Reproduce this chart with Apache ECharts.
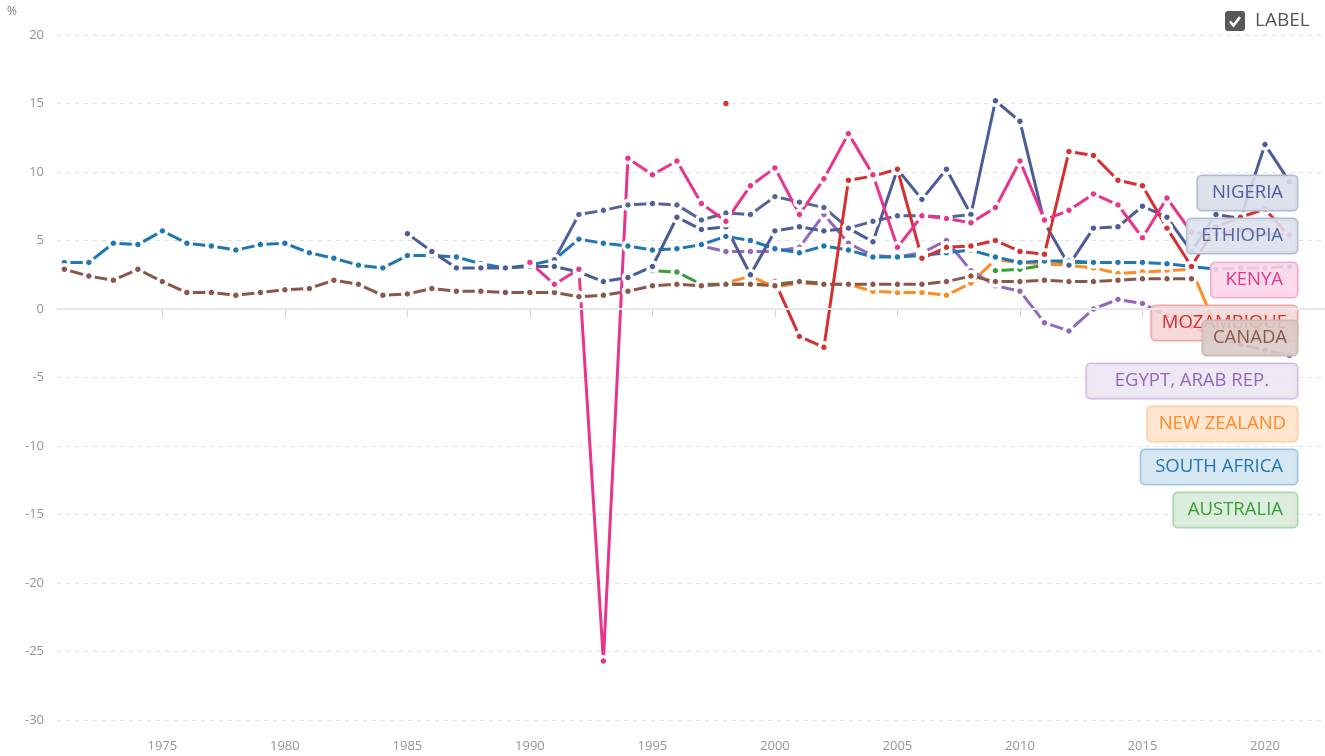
<!DOCTYPE html>
<html>
<head>
<meta charset="utf-8">
<script src="https://cdn.jsdelivr.net/npm/echarts@6.0.0/dist/echarts.min.js"></script>
<style>
    html, body { margin: 0; padding: 0; background: #fff; }
    #chart { width: 1325px; height: 756px; }
</style>
</head>
<body>
<div id="chart"></div>
<script>
    // tick labels on the year axis
    var yearTicks = [1975, 1980, 1985, 1990, 1995, 2000, 2005, 2010, 2015, 2020];

    // values per year, starting at the given year (null = no data)
    var southAfricaStart = 1971;
    var southAfrica = [3.4, 3.4, 4.8, 4.7, 5.7, 4.8, 4.6, 4.3, 4.7, 4.8, 4.1, 3.7, 3.2, 3.0, 3.9, 3.9, 3.8, 3.3, 3.0, 3.2,
        3.6, 5.1, 4.8, 4.6, 4.3, 4.4, 4.7, 5.3, 5.0, 4.4, 4.1, 4.6, 4.3, 3.8, 3.8, 3.9, 4.1, 4.3, 3.8, 3.4,
        3.5, 3.5, 3.4, 3.4, 3.4, 3.3, 3.1, 2.9, 3.0, 3.0, 3.1];

    var canadaStart = 1971;
    var canada = [2.9, 2.4, 2.1, 2.9, 2.0, 1.2, 1.2, 1.0, 1.2, 1.4, 1.5, 2.1, 1.8, 1.0, 1.1, 1.5, 1.3, 1.3, 1.2, 1.2,
        1.2, 0.9, 1.0, 1.3, 1.7, 1.8, 1.7, 1.8, 1.8, 1.7, 2.0, 1.8, 1.8, 1.8, 1.8, 1.8, 2.0, 2.4, 2.0, 2.0,
        2.1, 2.0, 2.0, 2.1, 2.2, 2.2, 2.2];

    var nigeriaStart = 1985;
    var nigeria = [5.5, 4.2, 3.0, 3.0, 3.0, 3.1, 3.1, 2.7, 2.0, 2.3, 3.1, 6.7, 5.8, 6.0, 2.5, 5.7, 6.0, 5.7, 5.9, 4.9,
        10.2, 8.0, 10.2, 6.9, 15.2, 13.7, 6.3, 3.2, 5.9, 6.0, 7.5, 6.7, 4.2, 6.9, 6.6, 12.0, 9.3];

    var ethiopiaStart = 1991;
    var ethiopia = [3.6, 6.9, 7.2, 7.6, 7.7, 7.6, 6.5, 7.0, 6.9, 8.2, 7.8, 7.4, 5.9, 6.4, 6.8, 6.8, 6.7, 6.9];

    var kenyaStart = 1990;
    var kenya = [3.4, 1.8, 2.9, -25.7, 11.0, 9.8, 10.8, 7.7, 6.4, 9.0, 10.3, 6.9, 9.5, 12.8, 9.8, 4.5, 6.8, 6.6, 6.3, 7.4,
        10.8, 6.5, 7.2, 8.4, 7.6, 5.2, 8.1, 5.6, 5.5, 5.8, 5.5, 5.4];

    var mozambiqueStart = 1998;
    var mozambique = [15.0, null, 2.0, -2.0, -2.8, 9.4, 9.7, 10.2, 3.7, 4.5, 4.6, 5.0, 4.2, 4.0, 11.5, 11.2, 9.4, 9.0, 5.9, 3.1,
        6.0, 6.7, 7.3, 5.3];

    var egyptStart = 1997;
    var egypt = [4.6, 4.2, 4.2, 4.2, 4.5, 6.9, 4.8, 3.9, 3.8, 4.1, 5.0, 2.8, 1.7, 1.3, -1.0, -1.6, 0.0, 0.7, 0.4, -0.5,
        -1.3, -2.0, -2.6, -3.0, -3.4];

    var newZealandStart = 1998;
    var newZealand = [1.9, 2.4, 1.6, 1.9, 1.8, 1.8, 1.3, 1.2, 1.2, 1.0, 1.9, 3.6, 3.4, 3.3, 3.2, 3.0, 2.6, 2.7, 2.8, 2.9,
        -1.3];

    var australiaStart = 1995;
    var australia = [2.8, 2.7, 1.8, 1.8, 1.8, 1.8, 2.0, 1.9, null, null, null, null, null, null, 2.8, 2.9, 3.2, 3.4, 3.4];

    // name, values, colour, label row (pixel centre), label side padding, box tint
    var countries = [
        {name: 'Australia',        start: australiaStart,   values: australia,   color: '#3a9d3a', row: 510, pad: 14, tint: 0.2},
        {name: 'New Zealand',      start: newZealandStart,  values: newZealand,  color: '#ff8a24', row: 424, pad: 11, tint: 0.24},
        {name: 'Egypt, Arab Rep.', start: egyptStart,       values: egypt,       color: '#9467bd', row: 381, pad: 28, tint: 0.18},
        {name: 'South Africa',     start: southAfricaStart, values: southAfrica, color: '#1f77b4', row: 467, pad: 14, tint: 0.2},
        {name: 'Ethiopia',         start: ethiopiaStart,    values: ethiopia,    color: '#52639e', row: 236, pad: 14, tint: 0.2},
        {name: 'Nigeria',          start: nigeriaStart,     values: nigeria,     color: '#4b5c98', row: 193, pad: 14, tint: 0.2},
        {name: 'Mozambique',       start: mozambiqueStart,  values: mozambique,  color: '#d62f2f', row: 323, pad: 10, tint: 0.2},
        {name: 'Canada',           start: canadaStart,      values: canada,      color: '#8c564b', row: 338, pad: 10, tint: 0.32},
        {name: 'Kenya',            start: kenyaStart,       values: kenya,       color: '#e8348c', row: 280, pad: 14, tint: 0.2}
    ];

    function tint(hex, t, a) {
        var r = parseInt(hex.slice(1, 3), 16), g = parseInt(hex.slice(3, 5), 16), b = parseInt(hex.slice(5, 7), 16);
        r = Math.round(255 - (255 - r) * t);
        g = Math.round(255 - (255 - g) * t);
        b = Math.round(255 - (255 - b) * t);
        return 'rgba(' + r + ',' + g + ',' + b + ',' + a + ')';
    }

    function buildData(start, values) {
        var last = -1;
        values.forEach(function (v, i) { if (v !== null) { last = i; } });
        return values.map(function (v, i) {
            var item = {value: [start + i, v === null ? '-' : v]};
            if (i === last) {
                item.label = {show: true};
            }
            return item;
        });
    }

    var labelRight = 1297;

    var series = countries.map(function (c, idx) {
        var s = {
            name: c.name,
            type: 'line',
            data: buildData(c.start, c.values),
            connectNulls: false,
            showSymbol: true,
            showAllSymbol: true,
            symbol: 'circle',
            symbolSize: 9,
            animation: false,
            lineStyle: {color: c.color, width: 3},
            itemStyle: {color: c.color, borderColor: '#fff', borderWidth: 3.5},
            emphasis: {disabled: true},
            label: {
                show: false,
                formatter: c.name.toUpperCase(),
                color: c.color,
                fontFamily: 'Open Sans',
                fontSize: 18.5,
                backgroundColor: tint(c.color, c.tint, 0.88),
                borderColor: tint(c.color, 0.42, 1),
                borderWidth: 1.5,
                borderRadius: 4,
                padding: [8, c.pad, 7, c.pad]
            },
            labelLayout: function () {
                return {x: labelRight, y: c.row, align: 'right', verticalAlign: 'middle'};
            }
        };
        if (idx === 0) {
            s.markLine = {
                silent: true,
                symbol: 'none',
                label: {show: false},
                lineStyle: {color: '#e4e8ee', width: 2, type: 'solid'},
                data: [{yAxis: 0}]
            };
        }
        return s;
    });

    var chart = echarts.init(document.getElementById('chart'));
    chart.setOption({
        animation: false,
        textStyle: {fontFamily: 'Open Sans'},
        grid: {left: 57, right: 0, top: 35, bottom: 36, containLabel: false},
        xAxis: {
            type: 'value',
            min: 1970.7,
            max: 2022.45,
            axisLine: {show: false},
            splitLine: {show: false},
            axisTick: {show: true, customValues: yearTicks, length: 8, lineStyle: {color: '#cfd4db'}},
            axisLabel: {
                customValues: yearTicks,
                margin: 20,
                color: '#8c96a6',
                fontSize: 13,
                formatter: function (v) { return String(v); }
            }
        },
        yAxis: {
            type: 'value',
            min: -30,
            max: 20,
            interval: 5,
            axisLine: {show: false},
            axisTick: {show: false},
            axisLabel: {color: '#8c96a6', fontSize: 13, margin: 13},
            splitLine: {lineStyle: {color: '#dcdfe4', type: [4, 5], width: 1}}
        },
        graphic: [
            {
                type: 'text', left: 7, top: 6,
                style: {text: '%', fill: '#7a7f8a', font: '12px "Open Sans"'}
            },
            {
                type: 'group', left: 1225, top: 11,
                children: [
                    {type: 'rect', shape: {x: 0, y: 0, width: 20, height: 20, r: 3}, style: {fill: '#585858'}},
                    {type: 'polyline', shape: {points: [[5, 10.5], [8.5, 14.5], [15, 6]]},
                        style: {stroke: '#fff', lineWidth: 2.6, fill: null}},
                    {type: 'text', x: 30, y: 10,
                        style: {text: 'LABEL', fill: '#555', font: '19px "Open Sans"', verticalAlign: 'middle'}}
                ]
            }
        ],
        series: series
    });
</script>
</body>
</html>
